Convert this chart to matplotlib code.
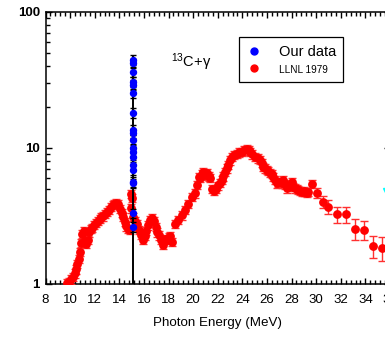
import numpy as np
import matplotlib
matplotlib.use("Agg")
import matplotlib.pyplot as plt
from matplotlib.lines import Line2D
from matplotlib.ticker import MultipleLocator, LogLocator, FixedLocator, FixedFormatter, NullFormatter

plt.rcParams['font.family'] = ['Liberation Sans', 'DejaVu Sans']
plt.rcParams['mathtext.fontset'] = 'custom'
plt.rcParams['mathtext.rm'] = 'Liberation Sans'
plt.rcParams['mathtext.default'] = 'regular'

# ---- data ----
# LLNL 1979 photoneutron cross section (mb)
llnl_energy = [
    9.75, 9.95, 10.10, 10.25, 10.38, 10.48, 10.60, 10.70, 10.80, 10.90,
    11.00, 11.10, 11.20, 11.32, 11.45, 11.55, 11.68, 11.80, 11.95, 12.10,
    12.25, 12.40, 12.55, 12.70, 12.85, 13.00, 13.15, 13.30, 13.45, 13.60,
    13.75, 13.90, 14.05, 14.20, 14.32, 14.45, 14.58, 14.72, 14.86, 14.92,
    15.04, 14.96, 15.14, 15.30, 15.45, 15.60, 15.75, 15.90, 16.05, 16.20,
    16.35, 16.50, 16.65, 16.80, 16.95, 17.10, 17.25, 17.40, 17.55, 17.70,
    17.85, 18.00, 18.12, 18.26, 18.55, 18.80, 19.07, 19.34, 19.60, 19.89,
    20.15, 20.29, 20.45, 20.56, 20.70, 20.83, 20.97, 21.10, 21.25, 21.37,
    21.55, 21.70, 21.85, 22.05, 22.20, 22.33, 22.46, 22.59, 22.72, 22.86,
    23.00, 23.14, 23.30, 23.54, 23.75, 23.95, 24.15, 24.36, 24.50, 24.63,
    24.80, 25.03, 25.25, 25.44, 25.58, 25.70, 25.85, 26.00, 26.11, 26.25,
    26.39, 26.52, 26.66, 26.80, 26.93, 27.07, 27.20, 27.33, 27.47, 27.61,
    27.80, 28.02, 28.15, 28.28, 28.42, 28.55, 28.70, 28.83, 28.97, 29.10,
    29.25, 29.37, 29.64, 30.10, 30.59, 30.94, 31.72, 32.43, 33.17, 33.89,
    34.65, 35.38,
]
llnl_sigma = [
    1.01, 1.04, 1.08, 1.13, 1.20, 1.28, 1.40, 1.53, 1.72, 2.00,
    2.35, 2.45, 2.08, 1.98, 2.12, 2.40, 2.55, 2.60, 2.72, 2.82,
    2.92, 3.00, 3.10, 3.15, 3.28, 3.40, 3.52, 3.68, 3.80, 3.88,
    3.95, 3.85, 3.55, 3.35, 3.10, 2.85, 2.65, 2.55, 2.50, 4.60,
    4.30, 3.60, 3.10, 2.90, 2.75, 2.50, 2.30, 2.12, 2.25, 2.45,
    2.70, 2.95, 3.08, 2.90, 2.62, 2.40, 2.28, 2.12, 1.95, 2.15,
    2.10, 2.22, 2.25, 2.05, 2.78, 2.95, 3.20, 3.50, 3.90, 4.38,
    4.64, 5.34, 6.10, 6.00, 6.40, 6.70, 6.30, 6.50, 6.20, 6.00,
    5.00, 4.85, 5.00, 5.30, 5.55, 5.80, 6.20, 6.70, 7.10, 7.50,
    8.10, 8.60, 8.90, 9.10, 9.30, 9.40, 9.60, 9.90, 9.60, 9.40,
    9.00, 8.60, 8.40, 8.15, 7.80, 7.30, 7.10, 6.90, 6.80, 6.60,
    6.45, 6.10, 5.80, 5.50, 5.60, 5.65, 5.50, 5.80, 5.40, 5.05,
    5.30, 5.65, 5.20, 5.05, 5.00, 4.90, 4.85, 4.77, 4.80, 4.75,
    4.70, 4.75, 5.45, 4.70, 4.00, 3.70, 3.25, 3.25, 2.55, 2.50,
    1.91, 1.84,
]
# relative uncertainties: uniform below 30 MeV, growing towards the high-energy tail
llnl_tail_relerr = [0.09, 0.10, 0.12, 0.13, 0.13, 0.17, 0.16, 0.19, 0.20]
llnl_relerr = [0.07] * (len(llnl_energy) - len(llnl_tail_relerr)) + llnl_tail_relerr

# Present measurement at the 15.1 MeV line
our_energy = [15.12] * 19
our_sigma = [44.4, 42.0, 36.4, 30.7, 29.1, 25.2, 18.2, 13.6, 12.8, 11.5,
             9.96, 9.39, 8.63, 7.50, 6.89, 5.65, 5.50, 3.31, 2.64]
our_relerr = 0.08

extra_energy = [35.65]
extra_sigma = [4.8]

x_ticks = list(range(8, 37, 2))
y_ticks = [1, 10, 100]
y_tick_labels = ['1', '10', '100']

# ---- figure ----
fig = plt.figure(figsize=(3.85, 3.39), dpi=100)
W, H = 385, 339
left, right, top, bottom = 45.5, 390.0, 12.0, 284.0
ax = fig.add_axes([left / W, 1 - bottom / H, (right - left) / W, (bottom - top) / H])

ax.set_yscale('log')
ax.set_xlim(8, 36)
ax.set_ylim(1, 100)

le = np.array(llnl_energy)
ls_ = np.array(llnl_sigma)
lr = np.array(llnl_relerr)
ax.errorbar(le, ls_, yerr=ls_ * lr, fmt='o', color='red', ms=5.3, mec='red',
            ecolor='#ff3030', elinewidth=1.0, capsize=2.9, capthick=1.0, zorder=3)

oe = np.array(our_energy)
os_ = np.array(our_sigma)
ax.vlines(oe[0], ax.get_ylim()[0], os_.max() * (1 + our_relerr), color='black', lw=1.4, zorder=4)
ax.errorbar(oe, os_, yerr=os_ * our_relerr, fmt='o', color='blue', ms=4.3, mec='blue',
            ecolor='black', elinewidth=1.0, capsize=1.9, capthick=1.0, zorder=5)

ax.plot(extra_energy, extra_sigma, 'v', color='cyan', ms=5, zorder=3, clip_on=False)

# ticks
ax.xaxis.set_major_locator(FixedLocator(x_ticks))
ax.xaxis.set_minor_locator(MultipleLocator(0.4))
ax.yaxis.set_major_locator(FixedLocator(y_ticks))
ax.yaxis.set_major_formatter(FixedFormatter(y_tick_labels))
ax.yaxis.set_minor_locator(LogLocator(base=10, subs=np.arange(2, 10)))
ax.yaxis.set_minor_formatter(NullFormatter())
ax.tick_params(which='both', direction='in', top=True, right=True, width=1.0)
ax.tick_params(which='major', length=4.6)
ax.tick_params(which='minor', length=2.7)
ax.tick_params(axis='x', which='major', labelsize=9.5, pad=7)
ax.tick_params(axis='y', which='major', labelsize=9.5, pad=4)
for lab in ax.get_yticklabels():
    lab.set_fontweight('bold')
for sp in ax.spines.values():
    sp.set_linewidth(1.1)

ax.set_xlabel('Photon Energy (MeV)', fontsize=9.6, labelpad=8)

ax.text(18.2, 43, '$^{13}$C+γ', fontsize=10.5, ha='left', va='center')

handles = [Line2D([], [], marker='o', ls='none', color='blue', ms=5),
           Line2D([], [], marker='o', ls='none', color='red', ms=5)]
leg = ax.legend(handles, ['Our data', 'LLNL 1979'], loc='upper left',
                bbox_to_anchor=((239 - left) / (right - left), 1 - (37 - top) / (bottom - top)),
                borderaxespad=0, frameon=True, fancybox=False, edgecolor='black',
                framealpha=1, handlelength=1.0, handletextpad=1.3, borderpad=0.55,
                labelspacing=0.3)
leg.get_frame().set_linewidth(0.9)
leg.get_texts()[0].set_fontsize(10.5)
leg.get_texts()[1].set_fontsize(7.2)

fig.savefig('out.png', dpi=100)
